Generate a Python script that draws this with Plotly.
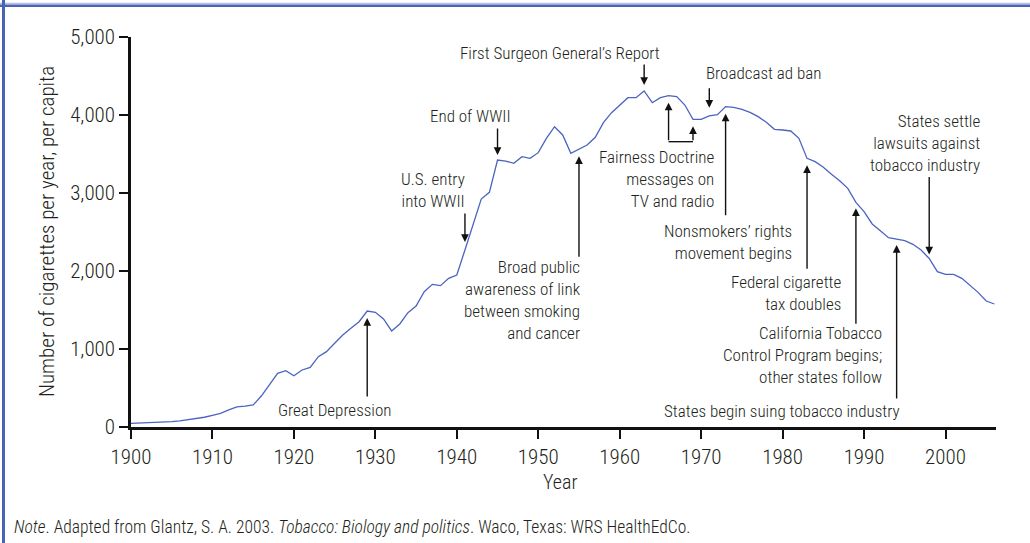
import plotly.graph_objects as go

# ---------------- data ----------------
years = list(range(1900, 2007))
cigarettes_per_capita = [
    47, 50, 54, 58, 62, 68, 78, 92, 108, 125,            # 1900-1909
    150, 175, 220, 258, 268, 282, 397, 545, 688, 722,     # 1910-1919
    658, 731, 765, 902, 966, 1073, 1179, 1265, 1350, 1487,  # 1920-1929
    1470, 1385, 1231, 1321, 1466, 1551, 1735, 1829, 1812, 1906,  # 1930-1939
    1949, 2269, 2611, 2923, 3009, 3423, 3410, 3380, 3466, 3444,  # 1940-1949
    3517, 3701, 3850, 3744, 3509, 3560, 3615, 3714, 3902, 4030,  # 1950-1959
    4128, 4222, 4222, 4308, 4158, 4222, 4248, 4235, 4128, 3945,  # 1960-1969
    3945, 3990, 4005, 4107, 4098, 4073, 4034, 3979, 3906, 3816,  # 1970-1979
    3808, 3795, 3701, 3444, 3402, 3329, 3239, 3158, 3060, 2880,  # 1980-1989
    2761, 2603, 2517, 2427, 2410, 2389, 2342, 2269, 2160, 1991,  # 1990-1999
    1957, 1957, 1906, 1820, 1726, 1615, 1577,                   # 2000-2006
]
x_tick_values = [1900, 1910, 1920, 1930, 1940, 1950, 1960, 1970, 1980, 1990, 2000]
x_tick_labels = [str(v) for v in x_tick_values]
y_tick_values = [0, 1000, 2000, 3000, 4000, 5000]
y_tick_labels = ["0", "1,000", "2,000", "3,000", "4,000", "5,000"]

event_years = [1929, 1941, 1945, 1955, 1963, 1971, 1973, 1983, 1989, 1994, 1998]
event_labels = [
    "Great Depression",
    "U.S. entry<br>into WWII",
    "End of WWII",
    "Broad public<br>awareness of link<br>between smoking<br>and cancer",
    "First Surgeon General\u2019s Report",
    "Broadcast ad ban",
    "Nonsmokers\u2019 rights<br>movement begins",
    "Federal cigarette<br>tax doubles",
    "California Tobacco<br>Control Program begins;<br>other states follow",
    "States begin suing tobacco industry",
    "States settle<br>lawsuits against<br>tobacco industry",
]
fairness_years = [1966, 1969]
fairness_label = "Fairness Doctrine<br>messages on<br>TV and radio"

title_x = "Year"
title_y = "Number of cigarettes per year, per capita"
note_html = ("<i>Note</i>. Adapted from Glantz, S. A. 2003. "
             "<i>Tobacco: Biology and politics</i>. Waco, Texas: WRS HealthEdCo.")

# ---------------- layout / style ----------------
W, H = 1030, 543
ML, MR, MT, MB = 131, 34, 37, 116
PW, PH = W - ML - MR, H - MT - MB
FONT = "Roboto Condensed, Liberation Sans Narrow, Arial Narrow, DejaVu Sans Condensed, sans-serif"
TXT = "#231f20"
LINE_COLOR = "#4a64c0"
FRAME_COLOR = "#4a62b8"
ANN_SIZE = 17
WEIGHT = 300


def px(xp):
    return (xp - ML) / PW


def py(yp):
    return (MT + PH - yp) / PH


value_at = dict(zip(years, cigarettes_per_capita))

# text placement (pixel anchor x, pixel center y, xanchor)
text_place = {
    1929: (334, 410, "center"),
    1941: (467, 190, "right"),
    1945: (470, 116, "center"),
    1955: (583, 300, "right"),
    1963: (560, 53, "center"),
    1971: (704, 73, "left"),
    1973: (794, 242, "right"),
    1983: (844, 293, "right"),
    1989: (884, 355, "right"),
    1994: (902, 411, "right"),
    1998: (982, 143, "right"),
}
arrow_offset = {  # pixel offset of arrow tail from data point, standoff in px
    1929: (87, 7),
    1941: (-38, 8),
    1945: (-33, 5),
    1955: (109, 7),
    1963: (-28, 6),
    1971: (-29, 8),
    1973: (110, 7),
    1983: (112, 7),
    1989: (123, 6),
    1994: (161, 6),
    1998: (-83, 4),
}
ann_font = dict(family=FONT, size=ANN_SIZE, color=TXT, weight=WEIGHT)

fig = go.Figure()
fig.add_trace(go.Scatter(
    x=years, y=cigarettes_per_capita, mode="lines",
    line=dict(color=LINE_COLOR, width=1.3), hoverinfo="x+y", showlegend=False,
))

annotations = []
for yr, lab in zip(event_years, event_labels):
    tx, ty, anchor = text_place[yr]
    annotations.append(dict(
        x=px(tx), y=py(ty), xref="paper", yref="paper", text=lab, showarrow=False,
        xanchor=anchor, yanchor="middle", align=anchor,
        font=ann_font,
    ))
    off, so = arrow_offset[yr]
    annotations.append(dict(
        x=yr, y=value_at[yr], xref="x", yref="y", text="", showarrow=True,
        ax=0, ay=off, arrowhead=2, arrowsize=1.1, arrowwidth=1.4,
        arrowcolor="#111111", standoff=so,
    ))

# Fairness doctrine bracket
fair_bottom = 3658
annotations.append(dict(
    x=px(716), y=py(179), xref="paper", yref="paper", text=fairness_label,
    showarrow=False, xanchor="right", yanchor="middle", align="right",
    font=ann_font,
))
for yr in fairness_years:
    annotations.append(dict(
        x=yr, y=value_at[yr], xref="x", yref="y", text="", showarrow=True,
        axref="x", ayref="y", ax=yr, ay=fair_bottom,
        arrowhead=2, arrowsize=1.1, arrowwidth=1.4, arrowcolor="#111111", standoff=7,
    ))

# axis titles and note
annotations.append(dict(
    x=px(560), y=py(482), xref="paper", yref="paper", text=title_x, showarrow=False,
    xanchor="center", yanchor="middle", font=dict(family=FONT, size=20, color=TXT, weight=WEIGHT),
))
annotations.append(dict(
    x=px(47), y=py(232), xref="paper", yref="paper", text=title_y, showarrow=False,
    textangle=-90, xanchor="center", yanchor="middle",
    font=dict(family=FONT, size=21, color=TXT, weight=WEIGHT),
))
annotations.append(dict(
    x=px(12), y=py(527), xref="paper", yref="paper", text=note_html, showarrow=False,
    xanchor="left", yanchor="middle", font=dict(family=FONT, size=17.5, color=TXT, weight=WEIGHT),
))

shapes = [
    dict(type="line", xref="x", yref="y", x0=fairness_years[0], x1=fairness_years[1],
         y0=fair_bottom, y1=fair_bottom, line=dict(color="#111111", width=1.4)),
    # page frame
    dict(type="line", xref="paper", yref="paper", x0=px(0), x1=px(W), y0=py(3.5), y1=py(3.5),
         line=dict(color="#b4c0e0", width=1.5)),
    dict(type="line", xref="paper", yref="paper", x0=px(0), x1=px(W), y0=py(5.8), y1=py(5.8),
         line=dict(color=FRAME_COLOR, width=2.6)),
    dict(type="line", xref="paper", yref="paper", x0=px(3.5), x1=px(3.5), y0=py(0), y1=py(H),
         line=dict(color=FRAME_COLOR, width=3)),
]

axis_common = dict(
    showgrid=False, zeroline=False, showline=True, linecolor="#111111", linewidth=2.5,
    ticks="outside", ticklen=9, tickwidth=2, tickcolor="#111111",
    tickfont=dict(family=FONT, size=21, color=TXT, weight=WEIGHT),
)
fig.update_layout(
    width=W, height=H,
    margin=dict(l=ML, r=MR, t=MT, b=MB, pad=0),
    paper_bgcolor="white", plot_bgcolor="white",
    xaxis=dict(range=[1900, 2006.2], tickvals=x_tick_values, ticktext=x_tick_labels, **axis_common),
    yaxis=dict(range=[0, 5000], tickvals=y_tick_values, ticktext=y_tick_labels, **axis_common),
    annotations=annotations, shapes=shapes,
)

fig.write_html(
    "out.html",
    config={"displayModeBar": False},
    post_script="document.body.style.margin='0';document.body.style.overflow='hidden';",
)
